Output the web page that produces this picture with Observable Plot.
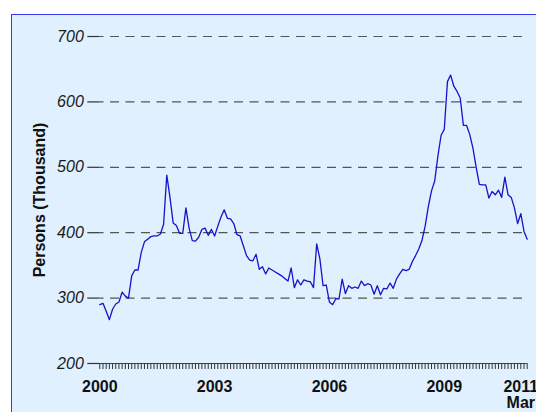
<!DOCTYPE html>
<html>
<head>
<meta charset="utf-8">
<script src="https://cdn.jsdelivr.net/npm/d3@7"></script>
<script src="https://cdn.jsdelivr.net/npm/@observablehq/plot@0.6"></script>
<style>
  html, body { margin: 0; padding: 0; background: #ffffff; width: 536px; height: 412px; overflow: hidden; }
  #panel { position: absolute; left: 11px; top: 14px; width: 600px; height: 500px;
           background: #e0f0fe; border-left: 1.5px solid #3a3af5; border-top: 1.5px solid #3a3af5; }
  #chart { position: absolute; left: 0; top: 0; }
</style>
</head>
<body>
<div id="panel"></div>
<div id="chart"></div>
<script>
// Monthly values, Jan 2000 .. Mar 2011 (thousand persons)
const values = [
  290, 292, 280, 267, 283, 291, 294, 309, 303, 300, 334, 343,
  343, 370, 386, 390, 394, 395, 395, 398, 413, 488, 454, 415,
  411, 399, 399, 438, 407, 388, 387, 393, 405, 407, 396, 405,
  395, 410, 424, 435, 422, 421, 414, 397, 395, 380, 365, 358,
  357, 367, 344, 348, 337, 346, 343, 340, 337, 334, 330, 326,
  346, 316, 328, 320, 328, 326, 325, 316, 383, 360, 319, 320,
  294, 290, 299, 299, 329, 307, 319, 315, 317, 315, 326, 319,
  322, 320, 306, 319, 305, 315, 314, 323, 315, 329, 337, 344,
  342, 344, 356, 365, 375, 388, 410, 440, 464, 479, 517, 549,
  558, 631, 641, 624, 616, 606, 564, 564, 550, 529, 500, 474,
  473, 473, 453, 463, 458, 465, 454, 485, 458, 454, 438, 414,
  429, 402, 390
];
const monthIndex = d3.range(values.length);
const yTicks = [200, 300, 400, 500, 600, 700];
const gridTicks = [300, 400, 500, 600, 700];
const labelIndex = [0, 36, 72, 108, 132];
const labelText = ["2000", "2003", "2006", "2009", "2011\nMar"];
const yTitle = "Persons (Thousand)";

const font = "'Liberation Sans', Arial, Helvetica, sans-serif";

const chart = Plot.plot({
  width: 536,
  height: 412,
  marginLeft: 99.3,
  marginRight: 9.3,
  marginTop: 36,
  marginBottom: 49,
  style: { background: "transparent", fontFamily: font, overflow: "visible" },
  x: { type: "linear", domain: [0, values.length - 1], axis: null },
  y: { domain: [200, 700], axis: null },
  marks: [
    Plot.ruleY(gridTicks, { stroke: "#555", strokeWidth: 1.2, strokeDasharray: "9,6.5", strokeDashoffset: 4.8 }),
    Plot.ruleY([200], { stroke: "#444", strokeWidth: 1.2 }),
    Plot.axisY({ ticks: yTicks, tickSize: 12, tickPadding: 4, tickFormat: d => String(d),
                 stroke: "#333", strokeWidth: 1.2, fill: "#1a1a1a",
                 fontSize: 16, fontStyle: "italic", fontFamily: font }),
    Plot.axisX({ ticks: monthIndex, tickSize: 6, tickFormat: () => "",
                 stroke: "#333", strokeWidth: 1 }),
    Plot.axisX({ ticks: labelIndex, tickSize: 0, tickPadding: 17,
                 tickFormat: i => labelText[labelIndex.indexOf(i)],
                 fill: "#111", fontSize: 16, fontWeight: "bold", fontFamily: font }),
    Plot.text([yTitle], { frameAnchor: "left", dx: -60, rotate: -90, textAnchor: "middle", lineAnchor: "middle",
                          fontSize: 16, fontWeight: "bold", fill: "#111", fontFamily: font }),
    Plot.line(values, { x: (d, i) => i, y: d => d, stroke: "#1414c8", strokeWidth: 1.3 })
  ]
});
document.getElementById("chart").appendChild(chart);
</script>
</body>
</html>
